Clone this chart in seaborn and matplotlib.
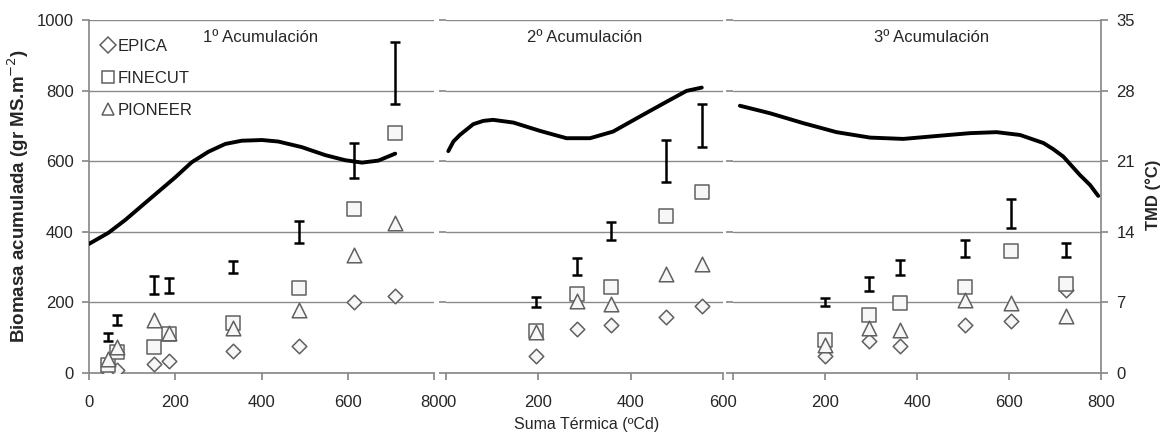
import pandas as pd
import seaborn as sns
import matplotlib.pyplot as plt
from matplotlib.lines import Line2D

sns.set_theme(style="white")
plt.rcParams['font.family'] = ['Liberation Sans', 'DejaVu Sans']

# 1º Acumulación
st1 = [43, 66, 151, 186, 335, 487, 614, 709]
epica1 = [6, 8, 26, 35, 61, 77, 200, 217]
finecut1 = [22, 59, 74, 110, 141, 242, 465, 679]
pioneer1 = [41, 75, 149, 113, 127, 179, 333, 426]
tot1 = [101, 151, 250, 248, 299, 399, 601, 849]
err1 = [11, 14, 25, 20, 17, 32, 50, 88]
tmd_x1 = [0, 45, 84, 122, 161, 200, 238, 277, 316, 354, 401, 439, 493, 548, 594, 633,
          671, 710]
tmd1 = [12.8, 13.9, 15.17, 16.56, 17.98, 19.4, 20.89, 21.94, 22.71, 23.03, 23.1, 22.95,
        22.4, 21.6, 21.1, 20.86, 21.06, 21.75]

# 2º Acumulación
st2 = [195, 283, 357, 477, 554]
epica2 = [47, 125, 137, 160, 189]
finecut2 = [118, 225, 245, 445, 514]
pioneer2 = [116, 203, 196, 281, 308]
tot2 = [200, 302, 402, 601, 701]
err2 = [14, 24, 26, 59, 61]
tmd_x2 = [5, 16, 30, 59, 81, 102, 146, 204, 261, 312, 362, 420, 478, 521, 554]
tmd2 = [22.0, 22.95, 23.6, 24.67, 25.0, 25.1, 24.83, 24.0, 23.28, 23.28, 23.94, 25.43,
        26.9, 27.97, 28.3]

# 3º Acumulación
st3 = [199, 296, 362, 505, 605, 724]
epica3 = [49, 92, 77, 135, 146, 235]
finecut3 = [94, 165, 198, 243, 347, 252]
pioneer3 = [80, 127, 123, 206, 198, 162]
tot3 = [201, 252, 299, 352, 451, 349]
err3 = [11, 19, 22, 24, 41, 19]
tmd_x3 = [15, 80, 153, 225, 298, 370, 443, 515, 573, 624, 675, 696, 718, 754, 776, 794]
tmd3 = [26.5, 25.76, 24.77, 23.88, 23.34, 23.21, 23.5, 23.78, 23.88, 23.6, 22.8, 22.2,
        21.46, 19.64, 18.65, 17.56]

titles = ['1º Acumulación', '2º Acumulación', '3º Acumulación']
cultivars = ['EPICA', 'FINECUT', 'PIONEER']
markers = {'EPICA': 'D', 'FINECUT': 's', 'PIONEER': '^'}
sizes = {'EPICA': 55, 'FINECUT': 110, 'PIONEER': 110}

panels = [
    (st1, epica1, finecut1, pioneer1, tot1, err1, tmd_x1, tmd1),
    (st2, epica2, finecut2, pioneer2, tot2, err2, tmd_x2, tmd2),
    (st3, epica3, finecut3, pioneer3, tot3, err3, tmd_x3, tmd3),
]

W, H = 1161, 441
boxes = [(89, 434, 800, 0.496), (446, 723, 600, 0.50), (733, 1101, 800, 0.54)]
grey = '#8a8a8a'
edge = '#606060'

fig = plt.figure(figsize=(W / 100, H / 100), dpi=100)

for i, ((l, r, xmax, tx), p) in enumerate(zip(boxes, panels)):
    st, ep, fc, pi, tot, err, tx_, tmd = p
    ax = fig.add_axes([l / W, 68 / H, (r - l) / W, 353 / H])
    df = pd.DataFrame({'st': st * 3, 'bio': ep + fc + pi,
                       'cv': sum([[c] * len(st) for c in cultivars], [])})
    for c in cultivars:
        sns.scatterplot(data=df[df.cv == c], x='st', y='bio', marker=markers[c],
                        s=sizes[c], color='#f7f7f7', edgecolor=edge,
                        linewidth=1.1, ax=ax, zorder=3, legend=False)
    ax.errorbar(st, tot, yerr=err, fmt='none', ecolor='black',
                elinewidth=1.8, capsize=3.8, capthick=1.8, zorder=4)

    ax.set_xlim(0, xmax)
    ax.set_ylim(0, 1000)
    ax.set_xticks(range(0, xmax + 1, 200))
    ax.set_yticks(range(0, 1001, 200))
    ax.set_xlabel('')
    ax.set_ylabel('')
    ax.yaxis.grid(True, color=grey, lw=1)
    ax.set_axisbelow(True)
    for s in ['top', 'right']:
        ax.spines[s].set_visible(False)
    ax.spines['bottom'].set_color(grey)
    ax.spines['left'].set_color(grey)
    ax.spines['left'].set_visible(i == 0)
    ax.tick_params(axis='x', bottom=True, direction='out', length=5,
                   color=grey, labelsize=12, pad=11)
    ax.tick_params(axis='y', left=True, direction='out', length=5,
                   color=grey, labelsize=12, pad=6, labelleft=(i == 0))
    if i == 1:
        ax.get_xticklabels()[0].set_ha('left')
    if i == 2:
        ax.set_xticklabels(['', '200', '400', '600', '800'])
    ax.text(tx, 0.95, titles[i], transform=ax.transAxes, ha='center',
            va='center', fontsize=12)

    ax2 = ax.twinx()
    sns.lineplot(x=tx_, y=tmd, color='black', lw=2.8, estimator=None,
                 ax=ax2, zorder=5, solid_joinstyle='round', solid_capstyle='round')
    ax2.set_ylim(0, 35)
    ax2.set_yticks(range(0, 36, 7))
    ax2.set_ylabel('')
    for s in ['top', 'left', 'bottom']:
        ax2.spines[s].set_visible(False)
    ax2.spines['right'].set_color(grey)
    ax2.spines['right'].set_visible(i == 2)
    ax2.tick_params(axis='y', right=(i == 2), direction='out', length=5,
                    color=grey, labelsize=12, pad=6, labelright=(i == 2))

    if i == 0:
        handles = [Line2D([], [], marker=markers[c], ls='none', mfc='white',
                          mec=edge, mew=1.1, ms=8 if c == 'EPICA' else 9)
                   for c in cultivars]
        ax.legend(handles, cultivars, loc='upper left', frameon=False,
                  bbox_to_anchor=(0.015, 0.966), fontsize=12, handlelength=0.8,
                  handletextpad=0.2, labelspacing=1.03, borderaxespad=0)

fig.text(18 / W, 1 - 196 / H, 'Biomasa acumulada (gr MS.m$^{-2}$)', rotation=90,
         ha='center', va='center', fontsize=13.5, fontweight='bold')
fig.text(1153 / W, 1 - 195 / H, 'TMD (°C)', rotation=90, ha='center',
         va='center', fontsize=12, fontweight='bold')
fig.text(587 / W, 1 - 425 / H, 'Suma Térmica (ºCd)', ha='center',
         va='center', fontsize=11.5)

plt.savefig('out.png', dpi=100)
